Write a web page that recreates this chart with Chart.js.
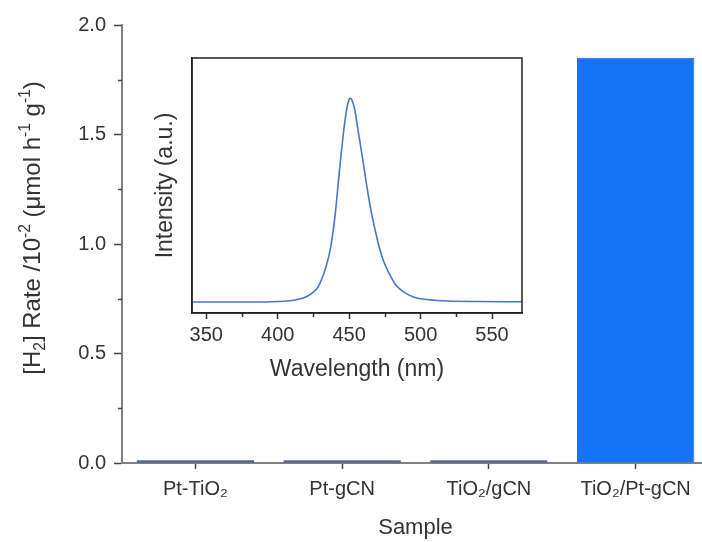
<!DOCTYPE html>
<html>
<head>
<meta charset="utf-8">
<script src="https://cdn.jsdelivr.net/npm/chart.js@4.4.1/dist/chart.umd.min.js"></script>
<style>
    html, body { margin: 0; padding: 0; background: #fff; overflow: hidden; }
    #wrap { position: relative; width: 702px; height: 542px; overflow: hidden; }
    #main { position: absolute; left: 0; top: 0; }
    #inset { position: absolute; left: 130px; top: 40px; }
</style>
</head>
<body>
<div id="wrap">
    <canvas id="main" width="720" height="542"></canvas>
    <canvas id="inset" width="410" height="350"></canvas>
</div>
<script>
const FONT = '"Liberation Sans", Arial, sans-serif';

// H2 evolution rate per sample
const samples = ['Pt-TiO₂', 'Pt-gCN', 'TiO₂/gCN', 'TiO₂/Pt-gCN'];
const h2Rate = [0.012, 0.012, 0.012, 1.85];
const rateTicks = [0, 0.5, 1.0, 1.5, 2.0];
const rateMinorTicks = [0.25, 0.75, 1.25, 1.75];

// Light source emission spectrum (inset)
const wavelength = [340, 360, 380, 400, 410, 415, 420, 425, 428, 431, 434, 437, 440, 443, 446, 448, 450, 451, 452, 454, 456, 458, 460, 462, 465, 468, 471, 474, 478, 482, 486, 490, 495, 500, 510, 520, 540, 560, 571];
const intensity = [0.043, 0.043, 0.043, 0.045, 0.049, 0.055, 0.064, 0.082, 0.100, 0.135, 0.185, 0.255, 0.375, 0.545, 0.705, 0.790, 0.838, 0.842, 0.835, 0.795, 0.725, 0.655, 0.585, 0.510, 0.410, 0.330, 0.260, 0.205, 0.155, 0.115, 0.092, 0.076, 0.063, 0.056, 0.050, 0.047, 0.045, 0.044, 0.044];
const wlTicks = [350, 400, 450, 500, 550];
const wlMinorTicks = [375, 425, 475, 525];

// y axis title with sub/superscripts: 0 normal, 1 superscript, -1 subscript
const yTitleParts = [['[H', 0], ['2', -1], ['] Rate /10', 0], ['-2', 1], [' (μmol h', 0], ['-1', 1], [' g', 0], ['-1', 1], [')', 0]];

// short unlabelled ticks between the labelled ones
const minorTicks = {
    id: 'minorTicks',
    afterDraw(chart, args, opts) {
        const ctx = chart.ctx;
        (opts.items || []).forEach(item => {
            const scale = chart.scales[item.axis];
            ctx.save();
            ctx.strokeStyle = item.color;
            ctx.lineWidth = item.width;
            item.values.forEach(v => {
                const p = Math.round(scale.getPixelForValue(v)) + 0.5;
                ctx.beginPath();
                if (scale.isHorizontal()) {
                    ctx.moveTo(p, scale.top);
                    ctx.lineTo(p, scale.top + item.len);
                } else {
                    ctx.moveTo(scale.right, p);
                    ctx.lineTo(scale.right - item.len, p);
                }
                ctx.stroke();
            });
            ctx.restore();
        });
    }
};

// box around the inset plot area
const frame = {
    id: 'frame',
    afterDraw(chart, args, opts) {
        const {left, top, right, bottom} = chart.chartArea;
        const ctx = chart.ctx;
        ctx.save();
        ctx.strokeStyle = opts.color;
        ctx.lineWidth = opts.width;
        ctx.strokeRect(left, top, right - left, bottom - top);
        ctx.restore();
    }
};

// rotated axis title drawn piece by piece so the indices sit right
const richTitle = {
    id: 'richTitle',
    afterDraw(chart, args, opts) {
        const ctx = chart.ctx;
        const size = opts.size;
        const small = size * 0.65;
        const fontFor = s => `${s}px ${FONT}`;
        ctx.save();
        ctx.translate(opts.x, opts.y);
        ctx.rotate(-Math.PI / 2);
        ctx.fillStyle = opts.color;
        ctx.textBaseline = 'alphabetic';
        let total = 0;
        opts.parts.forEach(([t, k]) => {
            ctx.font = fontFor(k ? small : size);
            total += ctx.measureText(t).width;
        });
        let cx = -total / 2;
        opts.parts.forEach(([t, k]) => {
            ctx.font = fontFor(k ? small : size);
            const dy = k === 1 ? -size * 0.4 : (k === -1 ? size * 0.24 : 0);
            ctx.fillText(t, cx, size * 0.36 + dy);
            cx += ctx.measureText(t).width;
        });
        ctx.restore();
    }
};

new Chart(document.getElementById('main'), {
    type: 'bar',
    data: {
        labels: samples,
        datasets: [{
            data: h2Rate,
            backgroundColor: ['#27427a', '#27427a', '#27427a', '#1673f3'],
            borderColor: ['#27427a', '#27427a', '#27427a', '#2763c9'],
            borderWidth: 1,
            barPercentage: 0.8,
            categoryPercentage: 1.0
        }]
    },
    options: {
        responsive: false,
        animation: false,
        devicePixelRatio: 1,
        layout: { padding: { top: 25, right: 11, left: 0, bottom: 0 } },
        plugins: {
            legend: { display: false },
            tooltip: { enabled: false },
            minorTicks: { items: [{ axis: 'y', values: rateMinorTicks, len: 4, color: '#444', width: 1.5 }] },
            richTitle: { parts: yTitleParts, x: 31, y: 228, size: 24, color: '#333' }
        },
        scales: {
            x: {
                grid: { drawOnChartArea: false, offset: false, tickLength: 6, tickColor: '#444', tickWidth: 1.5 },
                border: { color: '#808080', width: 2 },
                ticks: { color: '#333', font: { family: FONT, size: 20 }, padding: 8, maxRotation: 0, autoSkip: false },
                title: { display: true, text: 'Sample', color: '#333', font: { family: FONT, size: 22 }, padding: { top: 0, bottom: 1 } },
                afterFit: s => { s.height = 79; }
            },
            y: {
                min: 0,
                max: 2,
                afterBuildTicks: s => { s.ticks = rateTicks.map(v => ({ value: v })); },
                grid: { drawOnChartArea: false, tickLength: 8, tickColor: '#444', tickWidth: 1.5 },
                border: { color: '#808080', width: 2 },
                ticks: { color: '#333', font: { family: FONT, size: 20 }, padding: 8, callback: v => Number(v).toFixed(1) },
                afterFit: s => { s.width = 122; }
            }
        }
    },
    plugins: [minorTicks, richTitle]
});

new Chart(document.getElementById('inset'), {
    type: 'line',
    data: {
        datasets: [{
            data: wavelength.map((w, i) => ({ x: w, y: intensity[i] })),
            borderColor: '#4677c8',
            borderWidth: 1.6,
            pointRadius: 0,
            cubicInterpolationMode: 'monotone',
            fill: false
        }]
    },
    options: {
        responsive: false,
        animation: false,
        devicePixelRatio: 1,
        layout: { padding: { top: 18, right: 18, left: 0, bottom: 0 } },
        plugins: {
            legend: { display: false },
            tooltip: { enabled: false },
            minorTicks: { items: [{ axis: 'x', values: wlMinorTicks, len: 4, color: '#333', width: 1.5 }] },
            frame: { color: '#222', width: 1.5 }
        },
        scales: {
            x: {
                type: 'linear',
                min: 340,
                max: 571,
                afterBuildTicks: s => { s.ticks = wlTicks.map(v => ({ value: v })); },
                grid: { drawOnChartArea: false, tickLength: 6, tickColor: '#333', tickWidth: 1.5 },
                border: { color: '#222', width: 1.5 },
                ticks: { color: '#333', font: { family: FONT, size: 20 }, padding: 4, maxRotation: 0 },
                title: { display: true, text: 'Wavelength (nm)', color: '#333', font: { family: FONT, size: 23 }, padding: { top: 0, bottom: 7 } },
                afterFit: s => { s.height = 77; }
            },
            y: {
                min: 0,
                max: 1,
                ticks: { display: false },
                grid: { display: false },
                border: { color: '#222', width: 1.5 },
                title: { display: true, text: 'Intensity (a.u.)', color: '#333', font: { family: FONT, size: 23 }, padding: { top: 22, bottom: 0 } },
                afterFit: s => { s.width = 62; }
            }
        }
    },
    plugins: [minorTicks, frame]
});
</script>
</body>
</html>
